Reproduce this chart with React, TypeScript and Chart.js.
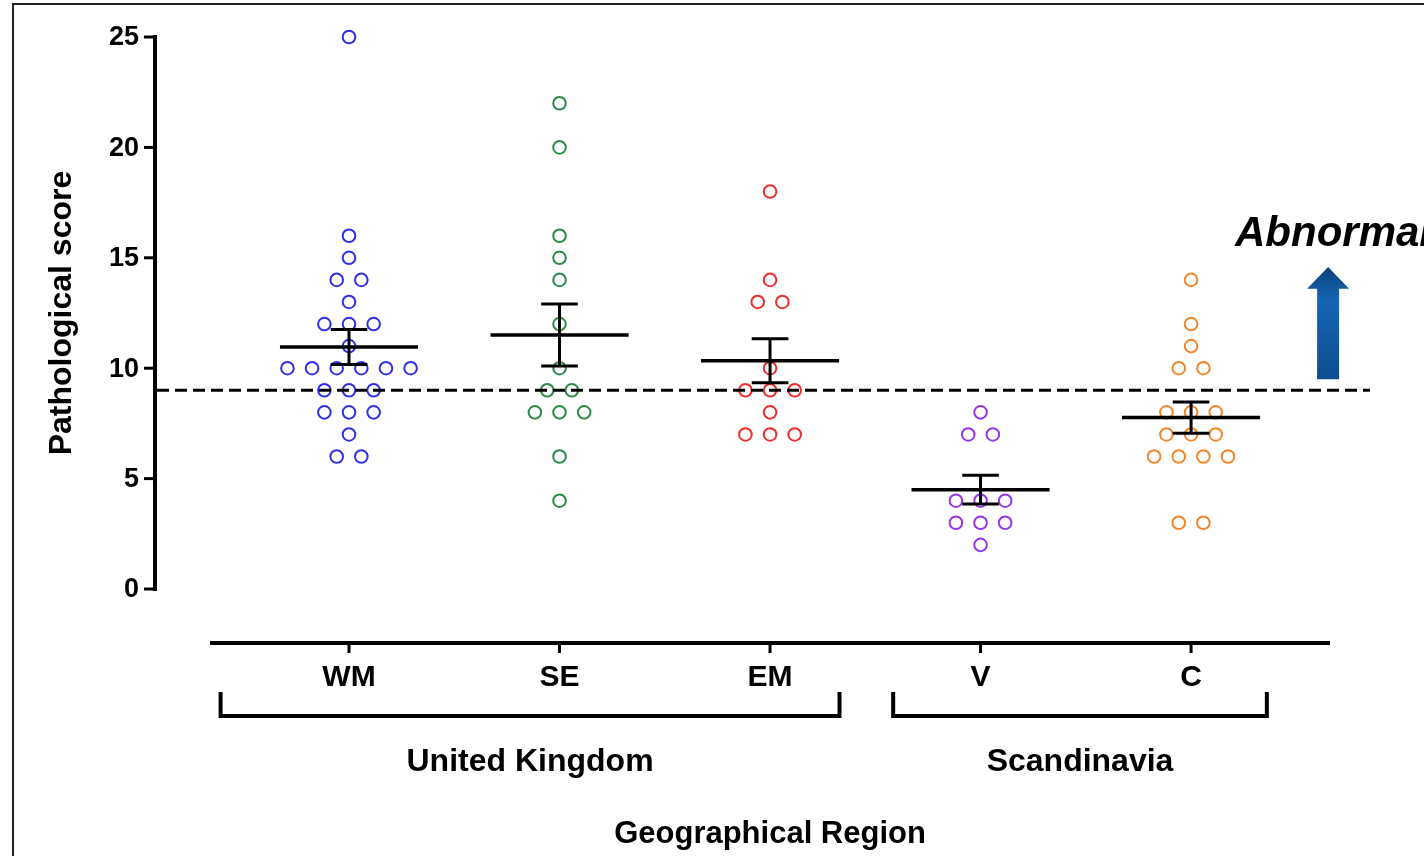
import React, { useEffect, useRef } from 'react';
import { Chart, registerables } from 'chart.js';
Chart.register(...registerables);

// ---- data ----
const categories = ['WM', 'SE', 'EM', 'V', 'C'];
const wmValues = [25, 16, 15, 14, 14, 13, 12, 12, 12, 11, 10, 10, 10, 10, 10, 10, 9, 9, 9, 8, 8, 8, 7, 6, 6];
const seValues = [22, 20, 16, 15, 14, 12, 10, 9, 9, 8, 8, 8, 6, 4];
const emValues = [18, 14, 13, 13, 10, 9, 9, 9, 8, 7, 7, 7];
const vValues = [8, 7, 7, 4, 4, 4, 3, 3, 3, 2];
const cValues = [14, 12, 11, 10, 10, 8, 8, 8, 7, 7, 7, 6, 6, 6, 6, 3, 3];
const seriesColors = ['#2f2fe8', '#2b8a45', '#ec2d2d', '#9636e6', '#f4862a'];
const yTicks = [0, 5, 10, 15, 20, 25];
const threshold = 9;
const groupLabels = ['United Kingdom', 'Scandinavia'];
const groupRanges = [[0.39, 3.33], [3.585, 5.36]];
const yTitle = 'Pathological score';
const xTitle = 'Geographical Region';
const noteText = 'Abnormal';

const allValues = [wmValues, seValues, emValues, vValues, cValues];

const FONT = '"Liberation Sans", Arial, Helvetica, sans-serif';
const SPREAD = 0.117;

function swarm(values: number[], center: number) {
  const counts: Record<number, number> = {};
  values.forEach((v) => (counts[v] = (counts[v] || 0) + 1));
  const seen: Record<number, number> = {};
  return values.map((v) => {
    const n = counts[v];
    const i = seen[v] || 0;
    seen[v] = i + 1;
    return { x: center + (i - (n - 1) / 2) * SPREAD, y: v };
  });
}

function stats(values: number[]) {
  const n = values.length;
  const mean = values.reduce((a, b) => a + b, 0) / n;
  const sd = Math.sqrt(values.reduce((a, b) => a + (b - mean) ** 2, 0) / (n - 1));
  return { mean, sem: sd / Math.sqrt(n) };
}

const decorPlugin = {
  id: 'decor',
  beforeDraw(chart: any) {
    const ctx = chart.ctx;
    ctx.save();
    ctx.fillStyle = '#ffffff';
    ctx.fillRect(0, 0, chart.width, chart.height);
    ctx.strokeStyle = '#222222';
    ctx.lineWidth = 2;
    ctx.strokeRect(13, 4, chart.width + 50, chart.height + 50);
    ctx.restore();
  },
  beforeDatasetsDraw(chart: any) {
    const ctx = chart.ctx;
    const xs = chart.scales.x;
    const ys = chart.scales.y;
    ctx.save();
    ctx.strokeStyle = '#000';
    ctx.fillStyle = '#000';
    ctx.lineCap = 'butt';
    // y axis
    const ax = xs.left;
    ctx.lineWidth = 4;
    ctx.beginPath();
    ctx.moveTo(ax, ys.getPixelForValue(25) - 2);
    ctx.lineTo(ax, ys.getPixelForValue(0) + 2);
    ctx.stroke();
    ctx.lineWidth = 3;
    ctx.font = `bold 27px ${FONT}`;
    ctx.textAlign = 'right';
    ctx.textBaseline = 'middle';
    yTicks.forEach((t) => {
      const py = ys.getPixelForValue(t);
      ctx.beginPath();
      ctx.moveTo(ax - 11, py);
      ctx.lineTo(ax, py);
      ctx.stroke();
      ctx.fillText(String(t), ax - 16, py + 1);
    });
    // y title
    ctx.save();
    ctx.translate(62, (ys.top + ys.bottom) / 2);
    ctx.rotate(-Math.PI / 2);
    ctx.textAlign = 'center';
    ctx.font = `bold 32px ${FONT}`;
    ctx.fillText(yTitle, 0, 0);
    ctx.restore();
    // x axis (offset)
    const axisY = ys.bottom + 54;
    ctx.lineWidth = 4;
    ctx.beginPath();
    ctx.moveTo(xs.getPixelForValue(0.34), axisY);
    ctx.lineTo(xs.getPixelForValue(5.66), axisY);
    ctx.stroke();
    ctx.lineWidth = 3;
    ctx.textAlign = 'center';
    ctx.font = `bold 30px ${FONT}`;
    categories.forEach((c, i) => {
      const px = xs.getPixelForValue(i + 1);
      ctx.beginPath();
      ctx.moveTo(px, axisY);
      ctx.lineTo(px, axisY + 10);
      ctx.stroke();
      ctx.fillText(c, px, axisY + 35);
    });
    // brackets
    ctx.lineWidth = 4;
    ctx.lineJoin = 'miter';
    ctx.font = `bold 32px ${FONT}`;
    groupRanges.forEach((r, gi) => {
      const x1 = xs.getPixelForValue(r[0]);
      const x2 = xs.getPixelForValue(r[1]);
      ctx.beginPath();
      ctx.moveTo(x1, axisY + 49);
      ctx.lineTo(x1, axisY + 73);
      ctx.lineTo(x2, axisY + 73);
      ctx.lineTo(x2, axisY + 49);
      ctx.stroke();
      ctx.fillText(groupLabels[gi], (x1 + x2) / 2, axisY + 119);
    });
    ctx.font = `bold 31px ${FONT}`;
    ctx.fillText(xTitle, xs.getPixelForValue(3), axisY + 191);
    ctx.restore();
  },
  afterDatasetsDraw(chart: any) {
    const ctx = chart.ctx;
    const xs = chart.scales.x;
    const ys = chart.scales.y;
    ctx.save();
    ctx.strokeStyle = '#000';
    ctx.lineCap = 'butt';
    // mean +/- SEM
    allValues.forEach((vals, i) => {
      const { mean, sem } = stats(vals);
      const cx = i + 1;
      const pm = ys.getPixelForValue(mean);
      ctx.lineWidth = 3.5;
      ctx.beginPath();
      ctx.moveTo(xs.getPixelForValue(cx - 0.328), pm);
      ctx.lineTo(xs.getPixelForValue(cx + 0.328), pm);
      ctx.stroke();
      const pu = ys.getPixelForValue(mean + sem);
      const pl = ys.getPixelForValue(mean - sem);
      const px = xs.getPixelForValue(cx);
      ctx.lineWidth = 3;
      ctx.beginPath();
      ctx.moveTo(px, pu);
      ctx.lineTo(px, pl);
      ctx.moveTo(xs.getPixelForValue(cx - 0.087), pu);
      ctx.lineTo(xs.getPixelForValue(cx + 0.087), pu);
      ctx.moveTo(xs.getPixelForValue(cx - 0.087), pl);
      ctx.lineTo(xs.getPixelForValue(cx + 0.087), pl);
      ctx.stroke();
    });
    // threshold dashed line
    const ty = ys.getPixelForValue(threshold);
    ctx.lineWidth = 3;
    ctx.setLineDash([12, 6]);
    ctx.beginPath();
    ctx.moveTo(xs.left + 2, ty);
    ctx.lineTo(xs.right, ty);
    ctx.stroke();
    ctx.setLineDash([]);
    // arrow
    const acx = xs.getPixelForValue(5.651);
    const tip = ys.getPixelForValue(14.58);
    const headBase = ys.getPixelForValue(13.6);
    const bottom = ys.getPixelForValue(9.5);
    const grad = ctx.createLinearGradient(0, tip, 0, bottom);
    grad.addColorStop(0, '#0e3f78');
    grad.addColorStop(0.3, '#1466b4');
    grad.addColorStop(1, '#0e4c8e');
    ctx.fillStyle = grad;
    ctx.beginPath();
    ctx.moveTo(acx, tip);
    ctx.lineTo(acx + 21, headBase);
    ctx.lineTo(acx + 11, headBase);
    ctx.lineTo(acx + 11, bottom);
    ctx.lineTo(acx - 11, bottom);
    ctx.lineTo(acx - 11, headBase);
    ctx.lineTo(acx - 21, headBase);
    ctx.closePath();
    ctx.fill();
    // note text
    ctx.fillStyle = '#000';
    ctx.font = `italic bold 42px ${FONT}`;
    ctx.textAlign = 'left';
    ctx.textBaseline = 'alphabetic';
    ctx.fillText(noteText, 1235, 246);
    ctx.restore();
  },
};

export default function App() {
  const ref = useRef<HTMLCanvasElement>(null);
  useEffect(() => {
    document.body.style.margin = '0';
    const datasets = allValues.map((vals, i) => ({
      label: categories[i],
      data: swarm(vals, i + 1),
      borderColor: seriesColors[i],
      backgroundColor: 'rgba(0,0,0,0)',
      pointRadius: 6.3,
      pointBorderWidth: 2,
      pointHoverRadius: 6.3,
      showLine: false,
      clip: false as any,
    }));
    const chart = new Chart(ref.current!, {
      type: 'scatter',
      data: { datasets },
      options: {
        animation: false,
        responsive: false,
        devicePixelRatio: 1,
        events: [],
        layout: { padding: { left: 155, right: 54, top: 37, bottom: 267 } },
        scales: {
          x: { type: 'linear', min: 0.0784, max: 5.85, display: false },
          y: { type: 'linear', min: 0, max: 25, display: false },
        },
        plugins: { legend: { display: false }, tooltip: { enabled: false } },
      },
      plugins: [decorPlugin],
    });
    return () => chart.destroy();
  }, []);
  return (
    <div style={{ position: 'absolute', left: 0, top: 0, width: 1424, height: 856, background: '#fff' }}>
      <canvas ref={ref} width={1424} height={856} style={{ display: 'block', width: 1424, height: 856 }} />
    </div>
  );
}
